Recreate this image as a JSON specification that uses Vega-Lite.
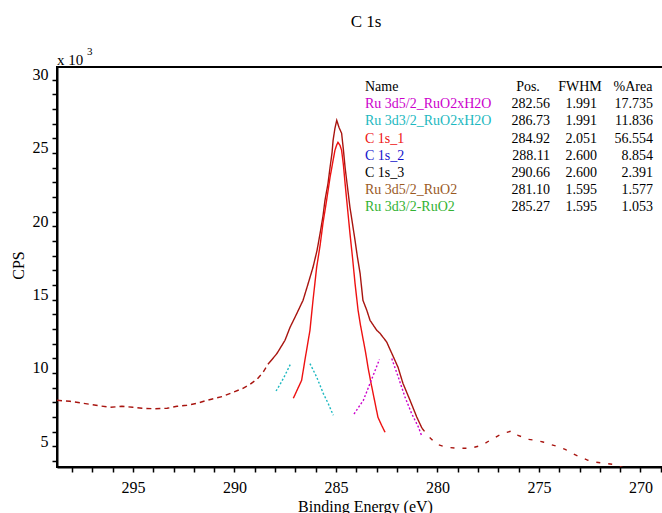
{
  "$schema": "https://vega.github.io/schema/vega-lite/v6.json",
  "width": 606,
  "height": 400,
  "autosize": {"type": "none"},
  "padding": {"left": 57, "top": 67, "right": 0, "bottom": 46},
  "background": "white",
  "title": {"text": "C 1s", "font": "Liberation Serif", "fontSize": 17, "fontWeight": "normal", "color": "black", "anchor": "middle", "frame": "group", "dx": 6, "offset": 2, "baseline": "alphabetic"},
  "config": {
    "view": {"stroke": "black", "strokeWidth": 2},
    "text": {"font": "Liberation Serif"},
    "axis": {"domainColor": "black", "domainWidth": 2, "tickColor": "black", "tickWidth": 1.5, "tickSize": 5, "labelColor": "black", "labelFont": "Liberation Serif", "labelFontSize": 16, "titleFont": "Liberation Serif", "titleFontSize": 16, "titleFontWeight": "normal", "titleColor": "black", "grid": false, "labelOverlap": false, "labelFlush": false}
  },
  "datasets": {
    "lines": [
      {"trace": "Data", "seg": "data-a", "be": 298.74, "cps": 8137},
      {"trace": "Data", "seg": "data-a", "be": 298.10, "cps": 8069},
      {"trace": "Data", "seg": "data-a", "be": 297.46, "cps": 7933},
      {"trace": "Data", "seg": "data-a", "be": 296.82, "cps": 7797},
      {"trace": "Data", "seg": "data-a", "be": 296.13, "cps": 7660},
      {"trace": "Data", "seg": "data-a", "be": 295.54, "cps": 7728},
      {"trace": "Data", "seg": "data-a", "be": 295.00, "cps": 7660},
      {"trace": "Data", "seg": "data-a", "be": 294.55, "cps": 7592},
      {"trace": "Data", "seg": "data-a", "be": 293.90, "cps": 7560},
      {"trace": "Data", "seg": "data-a", "be": 293.32, "cps": 7592},
      {"trace": "Data", "seg": "data-a", "be": 292.83, "cps": 7728},
      {"trace": "Data", "seg": "data-a", "be": 292.34, "cps": 7797},
      {"trace": "Data", "seg": "data-a", "be": 291.84, "cps": 7933},
      {"trace": "Data", "seg": "data-a", "be": 291.35, "cps": 8137},
      {"trace": "Data", "seg": "data-a", "be": 290.96, "cps": 8273},
      {"trace": "Data", "seg": "data-a", "be": 290.56, "cps": 8410},
      {"trace": "Data", "seg": "data-a", "be": 290.07, "cps": 8682},
      {"trace": "Data", "seg": "data-a", "be": 289.58, "cps": 8955},
      {"trace": "Data", "seg": "data-a", "be": 289.23, "cps": 9228},
      {"trace": "Data", "seg": "data-a", "be": 288.89, "cps": 9569},
      {"trace": "Data", "seg": "data-a", "be": 288.59, "cps": 10046},
      {"trace": "Data", "seg": "data-a", "be": 288.35, "cps": 10591},
      {"trace": "Data", "seg": "data-b", "be": 288.35, "cps": 10591},
      {"trace": "Data", "seg": "data-b", "be": 288.10, "cps": 11000},
      {"trace": "Data", "seg": "data-b", "be": 287.90, "cps": 11341},
      {"trace": "Data", "seg": "data-b", "be": 287.51, "cps": 12227},
      {"trace": "Data", "seg": "data-b", "be": 287.26, "cps": 13114},
      {"trace": "Data", "seg": "data-b", "be": 286.97, "cps": 13932},
      {"trace": "Data", "seg": "data-b", "be": 286.62, "cps": 14954},
      {"trace": "Data", "seg": "data-b", "be": 286.38, "cps": 16045},
      {"trace": "Data", "seg": "data-b", "be": 286.13, "cps": 17204},
      {"trace": "Data", "seg": "data-b", "be": 285.93, "cps": 18363},
      {"trace": "Data", "seg": "data-b", "be": 285.78, "cps": 19521},
      {"trace": "Data", "seg": "data-b", "be": 285.64, "cps": 20680},
      {"trace": "Data", "seg": "data-b", "be": 285.54, "cps": 21771},
      {"trace": "Data", "seg": "data-b", "be": 285.39, "cps": 22930},
      {"trace": "Data", "seg": "data-b", "be": 285.29, "cps": 24020},
      {"trace": "Data", "seg": "data-b", "be": 285.19, "cps": 25043},
      {"trace": "Data", "seg": "data-b", "be": 285.14, "cps": 25861},
      {"trace": "Data", "seg": "data-b", "be": 285.05, "cps": 26679},
      {"trace": "Data", "seg": "data-b", "be": 284.96, "cps": 27224},
      {"trace": "Data", "seg": "data-b", "be": 284.85, "cps": 26747},
      {"trace": "Data", "seg": "data-b", "be": 284.72, "cps": 26338},
      {"trace": "Data", "seg": "data-b", "be": 284.63, "cps": 25179},
      {"trace": "Data", "seg": "data-b", "be": 284.55, "cps": 24020},
      {"trace": "Data", "seg": "data-b", "be": 284.43, "cps": 22657},
      {"trace": "Data", "seg": "data-b", "be": 284.31, "cps": 21294},
      {"trace": "Data", "seg": "data-b", "be": 284.18, "cps": 20135},
      {"trace": "Data", "seg": "data-b", "be": 284.06, "cps": 19044},
      {"trace": "Data", "seg": "data-b", "be": 283.94, "cps": 17885},
      {"trace": "Data", "seg": "data-b", "be": 283.81, "cps": 16794},
      {"trace": "Data", "seg": "data-b", "be": 283.67, "cps": 14954},
      {"trace": "Data", "seg": "data-b", "be": 283.48, "cps": 14272},
      {"trace": "Data", "seg": "data-b", "be": 283.32, "cps": 13590},
      {"trace": "Data", "seg": "data-b", "be": 282.99, "cps": 12909},
      {"trace": "Data", "seg": "data-b", "be": 282.83, "cps": 12704},
      {"trace": "Data", "seg": "data-b", "be": 282.50, "cps": 12111},
      {"trace": "Data", "seg": "data-b", "be": 282.25, "cps": 11341},
      {"trace": "Data", "seg": "data-b", "be": 281.94, "cps": 10386},
      {"trace": "Data", "seg": "data-b", "be": 281.70, "cps": 9296},
      {"trace": "Data", "seg": "data-b", "be": 281.35, "cps": 8137},
      {"trace": "Data", "seg": "data-b", "be": 281.02, "cps": 7000},
      {"trace": "Data", "seg": "data-b", "be": 280.76, "cps": 6228},
      {"trace": "Data", "seg": "data-c", "be": 280.76, "cps": 6228},
      {"trace": "Data", "seg": "data-c", "be": 280.46, "cps": 5705},
      {"trace": "Data", "seg": "data-c", "be": 280.04, "cps": 5137},
      {"trace": "Data", "seg": "data-c", "be": 279.53, "cps": 4933},
      {"trace": "Data", "seg": "data-c", "be": 278.99, "cps": 4865},
      {"trace": "Data", "seg": "data-c", "be": 278.39, "cps": 4865},
      {"trace": "Data", "seg": "data-c", "be": 277.82, "cps": 5069},
      {"trace": "Data", "seg": "data-c", "be": 277.41, "cps": 5410},
      {"trace": "Data", "seg": "data-c", "be": 277.06, "cps": 5683},
      {"trace": "Data", "seg": "data-c", "be": 276.77, "cps": 5887},
      {"trace": "Data", "seg": "data-c", "be": 276.34, "cps": 6044},
      {"trace": "Data", "seg": "data-c", "be": 276.03, "cps": 5751},
      {"trace": "Data", "seg": "data-c", "be": 275.54, "cps": 5478},
      {"trace": "Data", "seg": "data-c", "be": 275.14, "cps": 5410},
      {"trace": "Data", "seg": "data-c", "be": 274.80, "cps": 5294},
      {"trace": "Data", "seg": "data-c", "be": 274.45, "cps": 5137},
      {"trace": "Data", "seg": "data-c", "be": 274.12, "cps": 5001},
      {"trace": "Data", "seg": "data-c", "be": 273.71, "cps": 4797},
      {"trace": "Data", "seg": "data-c", "be": 273.37, "cps": 4524},
      {"trace": "Data", "seg": "data-c", "be": 272.98, "cps": 4272},
      {"trace": "Data", "seg": "data-c", "be": 272.58, "cps": 4047},
      {"trace": "Data", "seg": "data-c", "be": 272.24, "cps": 3931},
      {"trace": "Data", "seg": "data-c", "be": 271.79, "cps": 3842},
      {"trace": "Data", "seg": "data-c", "be": 271.35, "cps": 3774},
      {"trace": "Data", "seg": "data-c", "be": 270.76, "cps": 3501},
      {"trace": "Data", "seg": "data-c", "be": 270.02, "cps": 3229},
      {"trace": "Data", "seg": "data-c", "be": 268.94, "cps": 2956},
      {"trace": "C 1s_1", "seg": "c1", "be": 287.10, "cps": 8273},
      {"trace": "C 1s_1", "seg": "c1", "be": 286.69, "cps": 9500},
      {"trace": "C 1s_1", "seg": "c1", "be": 286.53, "cps": 10864},
      {"trace": "C 1s_1", "seg": "c1", "be": 286.28, "cps": 12909},
      {"trace": "C 1s_1", "seg": "c1", "be": 286.13, "cps": 14954},
      {"trace": "C 1s_1", "seg": "c1", "be": 285.95, "cps": 17204},
      {"trace": "C 1s_1", "seg": "c1", "be": 285.78, "cps": 18703},
      {"trace": "C 1s_1", "seg": "c1", "be": 285.64, "cps": 20203},
      {"trace": "C 1s_1", "seg": "c1", "be": 285.46, "cps": 21771},
      {"trace": "C 1s_1", "seg": "c1", "be": 285.29, "cps": 23339},
      {"trace": "C 1s_1", "seg": "c1", "be": 285.14, "cps": 24498},
      {"trace": "C 1s_1", "seg": "c1", "be": 285.05, "cps": 25179},
      {"trace": "C 1s_1", "seg": "c1", "be": 284.97, "cps": 25520},
      {"trace": "C 1s_1", "seg": "c1", "be": 284.90, "cps": 25725},
      {"trace": "C 1s_1", "seg": "c1", "be": 284.80, "cps": 25520},
      {"trace": "C 1s_1", "seg": "c1", "be": 284.72, "cps": 25179},
      {"trace": "C 1s_1", "seg": "c1", "be": 284.63, "cps": 24157},
      {"trace": "C 1s_1", "seg": "c1", "be": 284.55, "cps": 22930},
      {"trace": "C 1s_1", "seg": "c1", "be": 284.43, "cps": 21225},
      {"trace": "C 1s_1", "seg": "c1", "be": 284.31, "cps": 19521},
      {"trace": "C 1s_1", "seg": "c1", "be": 284.18, "cps": 17817},
      {"trace": "C 1s_1", "seg": "c1", "be": 284.06, "cps": 16113},
      {"trace": "C 1s_1", "seg": "c1", "be": 283.91, "cps": 14272},
      {"trace": "C 1s_1", "seg": "c1", "be": 283.79, "cps": 13250},
      {"trace": "C 1s_1", "seg": "c1", "be": 283.67, "cps": 12364},
      {"trace": "C 1s_1", "seg": "c1", "be": 283.54, "cps": 11409},
      {"trace": "C 1s_1", "seg": "c1", "be": 283.42, "cps": 10386},
      {"trace": "C 1s_1", "seg": "c1", "be": 283.30, "cps": 9500},
      {"trace": "C 1s_1", "seg": "c1", "be": 283.17, "cps": 8614},
      {"trace": "C 1s_1", "seg": "c1", "be": 283.05, "cps": 7796},
      {"trace": "C 1s_1", "seg": "c1", "be": 282.93, "cps": 6978},
      {"trace": "C 1s_1", "seg": "c1", "be": 282.75, "cps": 6433},
      {"trace": "C 1s_1", "seg": "c1", "be": 282.58, "cps": 5955},
      {"trace": "Ru 3d3/2_RuO2xH2O", "seg": "cy1", "be": 287.95, "cps": 8771},
      {"trace": "Ru 3d3/2_RuO2xH2O", "seg": "cy1", "be": 287.75, "cps": 9228},
      {"trace": "Ru 3d3/2_RuO2xH2O", "seg": "cy1", "be": 287.56, "cps": 9705},
      {"trace": "Ru 3d3/2_RuO2xH2O", "seg": "cy1", "be": 287.39, "cps": 10182},
      {"trace": "Ru 3d3/2_RuO2xH2O", "seg": "cy1", "be": 287.23, "cps": 10639},
      {"trace": "Ru 3d3/2_RuO2xH2O", "seg": "cy2", "be": 286.28, "cps": 10639},
      {"trace": "Ru 3d3/2_RuO2xH2O", "seg": "cy2", "be": 285.95, "cps": 9725},
      {"trace": "Ru 3d3/2_RuO2xH2O", "seg": "cy2", "be": 285.62, "cps": 8594},
      {"trace": "Ru 3d3/2_RuO2xH2O", "seg": "cy2", "be": 285.38, "cps": 7912},
      {"trace": "Ru 3d3/2_RuO2xH2O", "seg": "cy2", "be": 285.13, "cps": 7114},
      {"trace": "Ru 3d5/2_RuO2xH2O", "seg": "mg1", "be": 284.11, "cps": 7204},
      {"trace": "Ru 3d5/2_RuO2xH2O", "seg": "mg1", "be": 283.65, "cps": 8137},
      {"trace": "Ru 3d5/2_RuO2xH2O", "seg": "mg1", "be": 283.32, "cps": 9296},
      {"trace": "Ru 3d5/2_RuO2xH2O", "seg": "mg1", "be": 282.86, "cps": 10912},
      {"trace": "Ru 3d5/2_RuO2xH2O", "seg": "mg2", "be": 282.25, "cps": 10980},
      {"trace": "Ru 3d5/2_RuO2xH2O", "seg": "mg2", "be": 281.93, "cps": 9725},
      {"trace": "Ru 3d5/2_RuO2xH2O", "seg": "mg2", "be": 281.60, "cps": 8362},
      {"trace": "Ru 3d5/2_RuO2xH2O", "seg": "mg2", "be": 281.27, "cps": 7230},
      {"trace": "Ru 3d5/2_RuO2xH2O", "seg": "mg2", "be": 280.94, "cps": 6317},
      {"trace": "Ru 3d5/2_RuO2xH2O", "seg": "mg2", "be": 280.77, "cps": 5683}
    ],
    "table": [
      {"row": 1, "name": "Ru 3d5/2_RuO2xH2O", "pos": 282.56, "fwhm": 1.991, "area": 17.735},
      {"row": 2, "name": "Ru 3d3/2_RuO2xH2O", "pos": 286.73, "fwhm": 1.991, "area": 11.836},
      {"row": 3, "name": "C 1s_1", "pos": 284.92, "fwhm": 2.051, "area": 56.554},
      {"row": 4, "name": "C 1s_2", "pos": 288.11, "fwhm": 2.600, "area": 8.854},
      {"row": 5, "name": "C 1s_3", "pos": 290.66, "fwhm": 2.600, "area": 2.391},
      {"row": 6, "name": "Ru 3d5/2_RuO2", "pos": 281.10, "fwhm": 1.595, "area": 1.577},
      {"row": 7, "name": "Ru 3d3/2-RuO2", "pos": 285.27, "fwhm": 1.595, "area": 1.053}
    ]
  },
  "resolve": {"scale": {"x": "independent", "y": "independent"}},
  "layer": [
    {
      "data": {"name": "lines"},
      "mark": {"type": "line", "clip": true, "strokeWidth": 1.4},
      "encoding": {
        "x": {"field": "be", "type": "quantitative", "scale": {"domain": [268.89, 298.74], "reverse": true, "nice": false, "zero": false},
          "axis": {"values": [269,270,271,272,273,274,275,276,277,278,279,280,281,282,283,284,285,286,287,288,289,290,291,292,293,294,295,296,297,298],
            "labelExpr": "datum.value % 5 === 0 ? datum.value : ''", "labelOverlap": false, "labelBound": false, "labelFlush": false, "labelPadding": 7, "titleX": 308, "titleY": 44, "titleBaseline": "alphabetic", "titleAlign": "center"},
          "title": "Binding Energy (eV)"},
        "y": {"field": "cps", "type": "quantitative", "scale": {"domain": [3590, 30860], "nice": false, "zero": false},
          "axis": {"values": [4000,5000,6000,7000,8000,9000,10000,11000,12000,13000,14000,15000,16000,17000,18000,19000,20000,21000,22000,23000,24000,25000,26000,27000,28000,29000,30000],
            "labelExpr": "datum.value % 5000 === 0 ? datum.value / 1000 : ''", "labelOverlap": false, "labelBaseline": "alphabetic", "labelPadding": 4, "titleX": -39, "titleY": 198, "titleAngle": -90, "titleBaseline": "middle", "titleAlign": "center"},
          "title": "CPS"},
        "color": {"field": "trace", "type": "nominal", "legend": null,
          "scale": {"domain": ["Ru 3d5/2_RuO2xH2O", "Ru 3d3/2_RuO2xH2O", "C 1s_1", "C 1s_2", "C 1s_3", "Ru 3d5/2_RuO2", "Ru 3d3/2-RuO2", "Data"],
                    "range": ["#CC00CC", "#1CB8C0", "#EE1111", "#1414CC", "#000000", "#9A5A1F", "#33B233", "#A8140F"]}},
        "strokeDash": {"field": "seg", "type": "nominal", "legend": null,
          "scale": {"domain": ["data-a", "data-b", "data-c", "c1", "cy1", "cy2", "mg1", "mg2"],
                    "range": [[5, 4], [1, 0], [4, 8], [1, 0], [2, 2], [2, 2], [2, 2], [2, 2]]}}
      }
    },
    {
      "data": {"values": [{"label": "x 10", "sup": "3"}]},
      "mark": {"type": "text", "align": "left", "baseline": "alphabetic", "fontSize": 15, "dy": -2, "color": "black"},
      "encoding": {
        "x": {"datum": 298.74, "type": "quantitative", "scale": {"domain": [268.89, 298.74], "reverse": true, "nice": false, "zero": false}, "axis": null},
        "y": {"datum": 30860, "type": "quantitative", "scale": {"domain": [3590, 30860], "nice": false, "zero": false}, "axis": null},
        "text": {"field": "label"}
      }
    },
    {
      "data": {"values": [{"label": "x 10", "sup": "3"}]},
      "mark": {"type": "text", "align": "left", "baseline": "alphabetic", "fontSize": 11, "dx": 30, "dy": -12, "color": "black"},
      "encoding": {
        "x": {"datum": 298.74, "type": "quantitative", "scale": {"domain": [268.89, 298.74], "reverse": true, "nice": false, "zero": false}, "axis": null},
        "y": {"datum": 30860, "type": "quantitative", "scale": {"domain": [3590, 30860], "nice": false, "zero": false}, "axis": null},
        "text": {"field": "sup"}
      }
    },
    {
      "data": {"values": [{"h": "Name"}]},
      "mark": {"type": "text", "align": "left", "baseline": "middle", "fontSize": 14, "color": "black"},
      "encoding": {
        "x": {"datum": 283.57, "type": "quantitative", "scale": {"domain": [268.89, 298.74], "reverse": true, "nice": false, "zero": false}, "axis": null},
        "y": {"datum": 0, "type": "quantitative", "scale": {"domain": [-1.163, 22.1], "reverse": true, "nice": false, "zero": false}, "axis": null},
        "text": {"field": "h"}
      }
    },
    {
      "data": {"values": [{"h": "Pos."}]},
      "mark": {"type": "text", "align": "center", "baseline": "middle", "fontSize": 14, "color": "black"},
      "encoding": {
        "x": {"datum": 275.54, "type": "quantitative", "scale": {"domain": [268.89, 298.74], "reverse": true, "nice": false, "zero": false}, "axis": null},
        "y": {"datum": 0, "type": "quantitative", "scale": {"domain": [-1.163, 22.1], "reverse": true, "nice": false, "zero": false}, "axis": null},
        "text": {"field": "h"}
      }
    },
    {
      "data": {"values": [{"h": "FWHM"}]},
      "mark": {"type": "text", "align": "center", "baseline": "middle", "fontSize": 14, "color": "black"},
      "encoding": {
        "x": {"datum": 272.98, "type": "quantitative", "scale": {"domain": [268.89, 298.74], "reverse": true, "nice": false, "zero": false}, "axis": null},
        "y": {"datum": 0, "type": "quantitative", "scale": {"domain": [-1.163, 22.1], "reverse": true, "nice": false, "zero": false}, "axis": null},
        "text": {"field": "h"}
      }
    },
    {
      "data": {"values": [{"h": "%Area"}]},
      "mark": {"type": "text", "align": "center", "baseline": "middle", "fontSize": 14, "color": "black"},
      "encoding": {
        "x": {"datum": 270.37, "type": "quantitative", "scale": {"domain": [268.89, 298.74], "reverse": true, "nice": false, "zero": false}, "axis": null},
        "y": {"datum": 0, "type": "quantitative", "scale": {"domain": [-1.163, 22.1], "reverse": true, "nice": false, "zero": false}, "axis": null},
        "text": {"field": "h"}
      }
    },
    {
      "data": {"name": "table"},
      "mark": {"type": "text", "align": "left", "baseline": "middle", "fontSize": 14},
      "encoding": {
        "x": {"datum": 283.57, "type": "quantitative", "scale": {"domain": [268.89, 298.74], "reverse": true, "nice": false, "zero": false}, "axis": null},
        "y": {"field": "row", "type": "quantitative", "scale": {"domain": [-1.163, 22.1], "reverse": true, "nice": false, "zero": false}, "axis": null},
        "text": {"field": "name"},
        "color": {"field": "name", "type": "nominal", "legend": null}
      }
    },
    {
      "data": {"name": "table"},
      "mark": {"type": "text", "align": "right", "baseline": "middle", "fontSize": 14, "color": "black"},
      "encoding": {
        "x": {"datum": 274.45, "type": "quantitative", "scale": {"domain": [268.89, 298.74], "reverse": true, "nice": false, "zero": false}, "axis": null},
        "y": {"field": "row", "type": "quantitative", "scale": {"domain": [-1.163, 22.1], "reverse": true, "nice": false, "zero": false}, "axis": null},
        "text": {"field": "pos", "format": ".2f"}
      }
    },
    {
      "data": {"name": "table"},
      "mark": {"type": "text", "align": "right", "baseline": "middle", "fontSize": 14, "color": "black"},
      "encoding": {
        "x": {"datum": 272.14, "type": "quantitative", "scale": {"domain": [268.89, 298.74], "reverse": true, "nice": false, "zero": false}, "axis": null},
        "y": {"field": "row", "type": "quantitative", "scale": {"domain": [-1.163, 22.1], "reverse": true, "nice": false, "zero": false}, "axis": null},
        "text": {"field": "fwhm", "format": ".3f"}
      }
    },
    {
      "data": {"name": "table"},
      "mark": {"type": "text", "align": "right", "baseline": "middle", "fontSize": 14, "color": "black"},
      "encoding": {
        "x": {"datum": 269.38, "type": "quantitative", "scale": {"domain": [268.89, 298.74], "reverse": true, "nice": false, "zero": false}, "axis": null},
        "y": {"field": "row", "type": "quantitative", "scale": {"domain": [-1.163, 22.1], "reverse": true, "nice": false, "zero": false}, "axis": null},
        "text": {"field": "area", "format": ".3f"}
      }
    }
  ]
}
